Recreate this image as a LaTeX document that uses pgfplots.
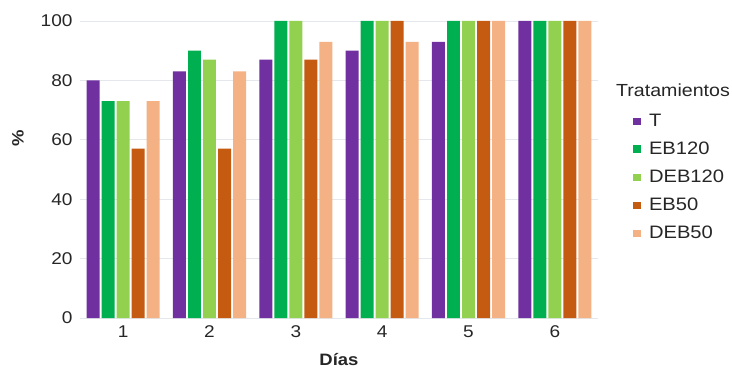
\documentclass[border=0pt]{standalone}
\usepackage{pgfplots}
\pgfplotsset{compat=1.18}
\usepackage{fontspec}
\setmainfont[FakeStretch=1.12]{Liberation Sans}
\definecolor{cT}{HTML}{7030A0}
\definecolor{cEBa}{HTML}{00B050}
\definecolor{cDEBa}{HTML}{92D050}
\definecolor{cEBb}{HTML}{C55A11}
\definecolor{cDEBb}{HTML}{F4B183}
\definecolor{gridc}{HTML}{E4E7EB}
\definecolor{txt}{HTML}{262626}
\begin{document}
\begin{tikzpicture}[x=1bp,y=1bp]
\path[use as bounding box] (0,0) rectangle (732,370);
\begin{axis}[
  at={(80bp,52bp)}, anchor=south west,
  scale only axis, width=518bp, height=297bp,
  xmin=0.5, xmax=6.5, ymin=0, ymax=100,
  xtick={1,2,3,4,5,6}, ytick={0,20,40,60,80,100},
  ymajorgrids, grid style={draw=gridc, line width=0.8bp},
  axis x line*=bottom, axis y line*=left,
  x axis line style={draw=gridc, line width=0.8bp},
  y axis line style={draw=none},
  major tick length=0pt,
  tick label style={font=\fontsize{17bp}{20bp}\selectfont, text=txt},
  /pgf/number format/assume math mode=true,
  yticklabel style={xshift=-4bp},
  xticklabel style={yshift=-4bp},
  xlabel={Días}, ylabel={\%},
  label style={font=\bfseries\fontsize{16.5bp}{19bp}\selectfont, text=txt},
  xlabel style={at={(axis description cs:0.5,-0.14)}, anchor=center},
  ylabel style={at={(axis description cs:-0.12,0.605)}, anchor=center, rotate=0},
  legend style={draw=none, fill=none, at={(axis description cs:1.068,0.693)}, anchor=north west,
    font=\fontsize{18bp}{21bp}\selectfont, text=txt, row sep=10bp, inner sep=0pt,
    /tikz/every odd column/.style={column sep=6bp}},
  legend cell align=left,
  legend image code/.code={\fill[#1] (0bp,-3.8bp) rectangle (7.6bp,3.8bp);},
  clip=false,
]
\addplot[ybar, fill=cT, draw=none, bar width=0.15, bar shift=-0.348] coordinates {(1,80) (2,83) (3,87) (4,90) (5,93) (6,100)};
\addlegendentry{T}
\addplot[ybar, fill=cEBa, draw=none, bar width=0.15, bar shift=-0.174] coordinates {(1,73) (2,90) (3,100) (4,100) (5,100) (6,100)};
\addlegendentry{EB120}
\addplot[ybar, fill=cDEBa, draw=none, bar width=0.15, bar shift=0] coordinates {(1,73) (2,87) (3,100) (4,100) (5,100) (6,100)};
\addlegendentry{DEB120}
\addplot[ybar, fill=cEBb, draw=none, bar width=0.15, bar shift=0.174] coordinates {(1,57) (2,57) (3,87) (4,100) (5,100) (6,100)};
\addlegendentry{EB50}
\addplot[ybar, fill=cDEBb, draw=none, bar width=0.15, bar shift=0.348] coordinates {(1,73) (2,83) (3,93) (4,93) (5,100) (6,100)};
\addlegendentry{DEB50}
\end{axis}
\node[anchor=west, inner sep=0pt, font=\fontsize{17.5bp}{21bp}\selectfont, text=txt] at (616,280) {Tratamientos};
\end{tikzpicture}
\end{document}
